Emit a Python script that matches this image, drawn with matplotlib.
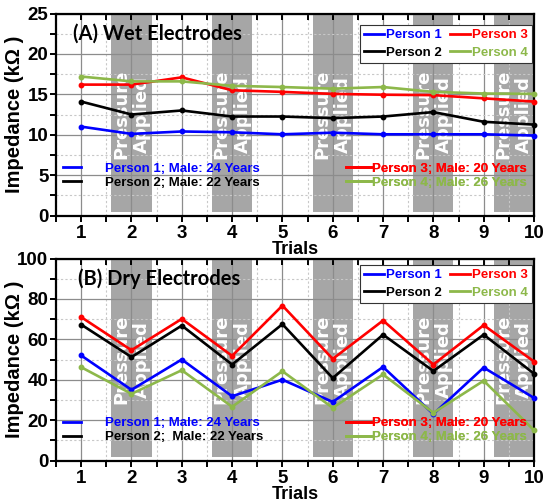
import matplotlib
matplotlib.use("Agg")
import matplotlib.pyplot as plt
from matplotlib.lines import Line2D
from matplotlib.ticker import MultipleLocator

trials = [1, 2, 3, 4, 5, 6, 7, 8, 9, 10]

wet_p1 = [11.0, 10.1, 10.4, 10.3, 10.05, 10.25, 10.05, 10.05, 10.05, 9.9]
wet_p2 = [14.1, 12.5, 13.0, 12.25, 12.25, 12.05, 12.25, 12.8, 11.6, 11.25]
wet_p3 = [16.2, 16.2, 17.1, 15.5, 15.3, 15.05, 14.95, 14.9, 14.5, 14.1]
wet_p4 = [17.2, 16.6, 16.6, 16.05, 15.9, 15.7, 15.9, 15.3, 15.1, 15.05]

dry_p1 = [52.0, 35.0, 50.0, 31.8, 40.0, 29.0, 46.3, 23.0, 46.0, 31.0]
dry_p2 = [67.3, 51.2, 66.8, 47.5, 67.5, 40.8, 62.3, 44.3, 62.3, 43.0]
dry_p3 = [71.0, 54.6, 70.1, 51.8, 76.7, 50.3, 69.3, 47.5, 67.0, 49.0]
dry_p4 = [46.2, 33.0, 44.7, 26.6, 44.2, 26.1, 42.6, 23.6, 39.5, 15.0]

band_centers = [2, 4, 6, 8, 9.6]
band_text = "Pressure\nApplied"

names = ["Person 1", "Person 2", "Person 3", "Person 4"]
wet_desc = ["Person 1; Male: 24 Years", "Person 2; Male: 22 Years",
            "Person 3; Male: 20 Years", "Person 4; Male: 26 Years"]
dry_desc = ["Person 1; Male: 24 Years", "Person 2;  Male: 22 Years",
            "Person 3; Male: 20 Years", "Person 4; Male: 26 Years"]
colors = ["#0000ff", "#000000", "#ff0000", "#8db84a"]

fig = plt.figure(figsize=(5.5, 5.04), dpi=100)
ax1 = fig.add_axes([0.1018, 0.5724, 0.8691, 0.4008])
ax2 = fig.add_axes([0.1018, 0.0863, 0.8691, 0.4008])

TF = dict(family="Liberation Sans", weight="bold")


def panel(ax, series, ymax, ymaj, title, descs, title_x, leg_y, desc_y):
    ax.set_xlim(0.5, 10)
    ax.set_ylim(0, ymax)
    # grey bands
    ax.bar(band_centers, [ymax * 0.985] * len(band_centers), width=0.8,
           bottom=ymax * 0.015, color="#a6a6a6", zorder=1, linewidth=0)
    for c in band_centers:
        ax.text(c, ymax * 0.5, band_text, rotation=90, ha="center", va="center",
                multialignment="center", color="white", fontsize=13,
                family="DejaVu Sans", weight="bold", zorder=1.8,
                linespacing=1.2)
    ax.xaxis.set_major_locator(MultipleLocator(1))
    ax.xaxis.set_minor_locator(MultipleLocator(0.5))
    ax.yaxis.set_major_locator(MultipleLocator(ymaj))
    ax.yaxis.set_minor_locator(MultipleLocator(ymaj / 2))
    ax.grid(which="major", color="#8c8c8c", lw=0.9, zorder=1.5)
    ax.grid(which="minor", color="#c8c8c8", lw=0.8, ls=(0, (2, 2)), zorder=1.5)
    ax.set_axisbelow("line")
    handles = []
    for s, col in zip(series, colors):
        ln, = ax.plot(trials, s, color=col, lw=1.9, marker="o", ms=3.2,
                      zorder=3, clip_on=False)
        handles.append(ln)
    for sp in ax.spines.values():
        sp.set_linewidth(1.6)
    ax.tick_params(axis="x", which="both", direction="out", top=True,
                   width=1.4, length=4, pad=3)
    ax.tick_params(axis="y", which="both", direction="out", width=1.4,
                   length=4, pad=1.5)
    for lab in ax.get_xticklabels() + ax.get_yticklabels():
        lab.set_fontproperties(dict(family="Liberation Sans", weight="bold",
                                    size=13.5))
    # top ticks point inward
    for t in ax.xaxis.get_major_ticks() + ax.xaxis.get_minor_ticks():
        t.tick2line.set_marker(3)
    ax.set_xlabel("Trials", fontsize=13, labelpad=-1, **TF)
    ax.set_ylabel("Impedance (k\u03a9 )", fontsize=14.5, **TF)
    ax.yaxis.set_label_coords(-0.066, 0.5)
    ax.text(title_x, 0.902, title, transform=ax.transAxes, ha="left",
            va="center", fontsize=14.5, family="Lato", weight="bold", zorder=5)

    lg = ax.legend([handles[0], handles[1], handles[2], handles[3]],
                   [names[0], names[1], names[2], names[3]],
                   ncol=2, loc="upper right", bbox_to_anchor=(0.996, leg_y),
                   borderaxespad=0, frameon=True, fancybox=False,
                   edgecolor="#333333", framealpha=1,
                   prop=dict(family="Liberation Sans", weight="bold", size=9.5),
                   labelcolor="linecolor", handlelength=1.5, handletextpad=0.2,
                   columnspacing=0.6, labelspacing=0.4, borderpad=0.3)
    lg.get_frame().set_linewidth(0.8)
    for h in lg.legend_handles:
        h.set_marker("")
        h.set_linewidth(2.0)
    ax.add_artist(lg)

    def line_h(col):
        return Line2D([], [], color=col, lw=2.0)

    lg2 = ax.legend([line_h(colors[0]), line_h(colors[1])], descs[:2],
                    loc="center left", bbox_to_anchor=(0.014, desc_y),
                    borderaxespad=0, borderpad=0, frameon=False,
                    prop=dict(family="Liberation Sans", weight="bold", size=9.5),
                    labelcolor=[colors[0], colors[1]], handlelength=1.4,
                    handletextpad=1.8, labelspacing=0.12)
    ax.add_artist(lg2)
    lg3 = ax.legend([line_h(colors[2]), line_h(colors[3])], descs[2:],
                    loc="center right", bbox_to_anchor=(0.985, desc_y),
                    borderaxespad=0, borderpad=0, frameon=False,
                    prop=dict(family="Liberation Sans", weight="bold", size=9.5),
                    labelcolor=[colors[2], colors[3]], handlelength=1.9,
                    handletextpad=0.05, labelspacing=0.12)
    ax.add_artist(lg3)


panel(ax1, [wet_p1, wet_p2, wet_p3, wet_p4], 25, 5, "(A) Wet Electrodes",
      wet_desc, 0.036, 0.943, 0.197)
panel(ax2, [dry_p1, dry_p2, dry_p3, dry_p4], 100, 20, "(B) Dry Electrodes",
      dry_desc, 0.047, 0.968, 0.15)

fig.savefig("out.png", dpi=100)
